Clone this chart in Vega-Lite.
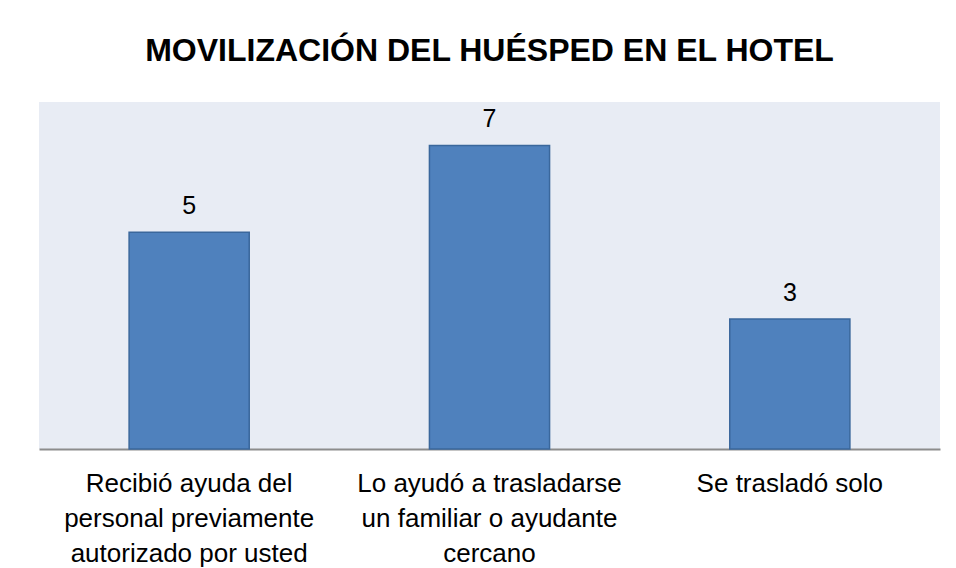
{
  "$schema": "https://vega.github.io/schema/vega-lite/v6.json",
  "width": 901,
  "height": 347,
  "autosize": {"type": "none"},
  "padding": {"left": 39, "top": 102, "right": 16, "bottom": 119},
  "background": "white",
  "config": {
    "view": {"fill": "#E8ECF4", "stroke": null},
    "font": "Liberation Sans"
  },
  "title": {
    "text": "MOVILIZACIÓN DEL HUÉSPED EN EL HOTEL",
    "fontSize": 32,
    "fontWeight": "bold",
    "font": "Liberation Sans",
    "color": "#000000",
    "anchor": "middle",
    "baseline": "alphabetic",
    "offset": 9
  },
  "data": {
    "values": [
      {"categoria": "Recibió ayuda del personal previamente autorizado por usted", "cantidad": 5},
      {"categoria": "Lo ayudó a trasladarse un familiar o ayudante cercano", "cantidad": 7},
      {"categoria": "Se trasladó solo", "cantidad": 3}
    ]
  },
  "encoding": {
    "x": {
      "field": "categoria",
      "type": "nominal",
      "sort": null,
      "scale": {"paddingInner": 0.6, "paddingOuter": 0.3},
      "axis": {
        "title": null,
        "labelAngle": 0,
        "labelFontSize": 26,
        "labelFont": "Liberation Sans",
        "labelColor": "#000000",
        "labelLineHeight": 35,
        "labelPadding": 21,
        "labelLimit": 400,
        "labelBaseline": "top",
        "ticks": false,
        "domainColor": "#8C8C8C",
        "domainWidth": 2,
        "labelExpr": "datum.value == 'Recibió ayuda del personal previamente autorizado por usted' ? ['Recibió ayuda del', 'personal previamente', 'autorizado por usted'] : datum.value == 'Lo ayudó a trasladarse un familiar o ayudante cercano' ? ['Lo ayudó a trasladarse', 'un familiar o ayudante', 'cercano'] : datum.value"
      }
    },
    "y": {
      "field": "cantidad",
      "type": "quantitative",
      "scale": {"domain": [0, 8], "nice": false},
      "axis": null
    }
  },
  "layer": [
    {
      "mark": {"type": "bar", "color": "#4F81BD", "stroke": "#3A679C", "strokeWidth": 1.5}
    },
    {
      "mark": {"type": "text", "fontSize": 25, "font": "Liberation Sans", "color": "#000000", "baseline": "alphabetic", "dy": -18},
      "encoding": {"text": {"field": "cantidad", "type": "quantitative"}}
    }
  ]
}
